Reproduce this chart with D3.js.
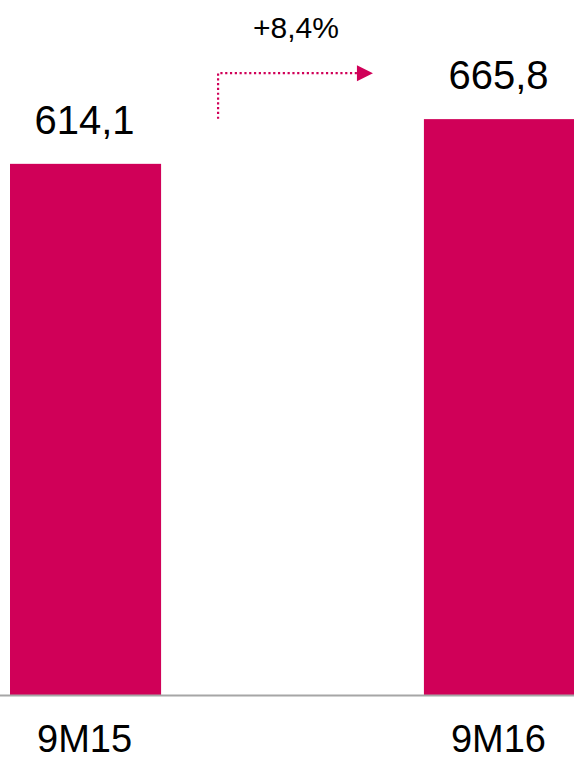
<!DOCTYPE html>
<html>
<head>
<meta charset="utf-8">
<script src="https://cdn.jsdelivr.net/npm/d3@7"></script>
<style>
  body { margin: 0; background: #fff; }
</style>
</head>
<body>
<script>
var categories = ["9M15", "9M16"];
var values = [614.1, 665.8];
var valueLabels = ["614,1", "665,8"];
var growthLabel = "+8,4%";

var width = 574, height = 761;
var barColor = "#d00058";
var font = "'Liberation Sans', Arial, sans-serif";

var svg = d3.select("body")
    .append("svg")
    .attr("width", width)
    .attr("height", height);

var x = d3.scaleBand()
    .domain(categories)
    .range([10, 575])
    .paddingInner(0.635)
    .paddingOuter(0);

var y = d3.scaleLinear()
    .domain([0, 770])
    .range([695, 29]);

// bars
svg.append("g")
    .selectAll("rect")
    .data(values)
    .enter()
        .append("rect")
        .attr("x", function (d, i) { return x(categories[i]); })
        .attr("y", function (d) { return y(d); })
        .attr("width", x.bandwidth())
        .attr("height", function (d) { return y(0) - y(d); })
        .attr("fill", barColor);

// baseline
svg.append("line")
    .attr("x1", 0)
    .attr("x2", width)
    .attr("y1", y(0) + 0.5)
    .attr("y2", y(0) + 0.5)
    .attr("stroke", "#a6a6a6")
    .attr("stroke-width", 2);

// value labels
svg.append("g")
    .selectAll("text")
    .data(values)
    .enter()
        .append("text")
        .attr("x", function (d, i) { return x(categories[i]) + x.bandwidth() / 2 - 1; })
        .attr("y", function (d) { return y(d) - 30; })
        .attr("text-anchor", "middle")
        .attr("fill", "#000")
        .style("font-family", font)
        .style("font-size", "40px")
        .text(function (d, i) { return valueLabels[i]; });

// category labels
svg.append("g")
    .selectAll("text")
    .data(categories)
    .enter()
        .append("text")
        .attr("x", function (d) { return x(d) + x.bandwidth() / 2 - 1; })
        .attr("y", 752)
        .attr("text-anchor", "middle")
        .attr("fill", "#000")
        .style("font-family", font)
        .style("font-size", "38px")
        .text(function (d) { return d; });

// growth arrow
var ax = x(categories[0]) + x.bandwidth() + 57;
var ay = y(values[1]) - 46;
var axEnd = x(categories[1]) - 67;

svg.append("path")
    .attr("d", "M" + ax + "," + (y(values[0]) - 45) + "V" + ay + "H" + axEnd)
    .attr("fill", "none")
    .attr("stroke", barColor)
    .attr("stroke-width", 2.2)
    .style("stroke-dasharray", "2.2,2.6");

svg.append("path")
    .attr("d", "M" + axEnd + "," + (ay - 8) + "L" + (axEnd + 16) + "," + ay + "L" + axEnd + "," + (ay + 8) + "Z")
    .attr("fill", barColor);

svg.append("text")
    .attr("x", 296)
    .attr("y", 38)
    .attr("text-anchor", "middle")
    .attr("fill", "#000")
    .style("font-family", font)
    .style("font-size", "30px")
    .text(growthLabel);
</script>
</body>
</html>
